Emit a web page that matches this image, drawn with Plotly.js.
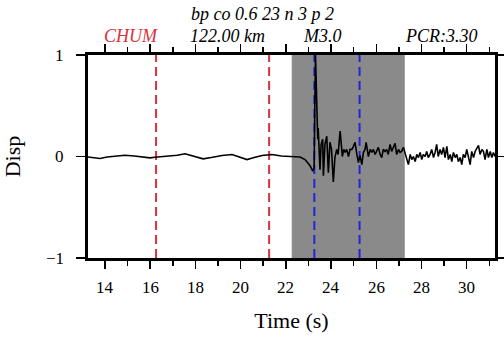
<!DOCTYPE html>
<html>
<head>
<meta charset="utf-8">
<script src="https://cdn.plot.ly/plotly-3.0.1.min.js"></script>
<style>html,body{margin:0;padding:0;background:#fff;}#chart{width:504px;height:338px;}</style>
</head>
<body>
<div id="chart"></div>
<script>
// Waveform (time in s, normalized displacement)
const timeS = [13.25,13.5,13.78,14.1,14.5,14.88,15.3,15.6,15.99,16.2,16.43,16.8,17.2,17.54,17.9,18.34,18.7,19.0,19.18,19.62,19.95,20.28,20.6,20.95,21.39,21.8,22.19,
22.63,22.85,23.07,23.19,23.25,23.31,23.37,23.41,23.43,23.51,23.56,23.63,23.66,23.73,23.81,23.88,23.95,24.02,24.10,24.17,24.25,24.31,24.40,24.50,24.56,24.62,24.69,24.77,24.84,24.92,24.99,25.06,25.14,25.21,25.28,25.36,25.43,25.50,25.55,25.65,25.73,25.80,25.87,25.95,26.09,26.17,26.24,26.31,26.39,26.46,26.53,26.61,26.68,26.75,26.83,26.90,26.98,27.05,27.12,27.20,27.27,27.35,27.42,27.50,27.57,27.64,27.72,27.79,27.86,27.94,28.01,28.08,28.16,28.23,28.30,28.38,28.45,28.53,28.60,28.67,28.74,28.82,28.89,28.97,29.04,29.12,29.19,29.27,29.34,29.41,29.49,29.56,29.63,29.71,29.78,29.85,29.93,30.00,30.08,30.15,30.22,30.30,30.37,30.45,30.52,30.59,30.67,30.74,30.81,30.89,30.96,31.04,31.11,31.18,31.25];
const disp = [-0.005,-0.01,-0.02,-0.005,0.008,0.013,0.005,-0.005,-0.013,-0.008,-0.003,0.0,0.012,0.027,0.005,-0.023,-0.01,0.005,0.01,0.02,-0.005,-0.03,-0.01,0.01,0.02,0.005,0.0,
-0.005,-0.03,-0.09,-0.145,-0.11,1.0,0.36,0.17,0.28,-0.13,0.12,0.17,-0.19,0.12,0.2,-0.16,0.14,0.07,-0.25,-0.01,0.07,0.02,0.25,0.0,0.07,0.04,0.07,0.0,0.07,0.07,0.1,0.14,0.02,-0.06,0.01,-0.08,0.04,0.07,0.14,0.0,0.07,0.04,0.07,0.02,0.09,0.02,-0.01,0.07,0.05,0.07,0.02,0.12,0.05,0.09,0.13,0.02,0.07,0.04,0.05,0.09,0.04,-0.01,-0.08,0.02,-0.03,0.0,-0.05,0.02,-0.01,0.04,-0.03,0.02,0.0,0.05,-0.01,0.02,0.07,-0.01,0.04,0.12,0.0,0.07,0.02,0.09,-0.01,0.1,-0.03,0.02,-0.05,0.04,-0.01,0.02,-0.05,-0.01,-0.08,0.02,-0.01,0.07,-0.03,-0.08,0.05,-0.01,0.05,0.09,0.11,0.02,0.07,0.05,-0.03,0.07,-0.01,0.05,-0.01,0.04,0.0];

const redPicks = [16.26, 21.26];
const bluePicks = [23.26, 25.26];
const windowSpan = [22.26, 27.26];

const xTickVals = [14, 16, 18, 20, 22, 24, 26, 28, 30];
const xTickText = ['14', '16', '18', '20', '22', '24', '26', '28', '30'];
const yTickVals = [-1, 0, 1];
const yTickText = ['\u22121', '0', '1'];
const headerLine1 = 'bp co 0.6 23 n 3 p 2';
const stationName = 'CHUM';
const distanceText = '122.00 km';
const magText = 'M3.0';
const pcrText = 'PCR:3.30';

const serif = 'Liberation Serif';

const shapes = [];
shapes.push({type:'rect', xref:'x', yref:'y', x0:windowSpan[0], x1:windowSpan[1], y0:-1, y1:1,
  fillcolor:'#8a8a8a', line:{width:0}, layer:'below'});
redPicks.forEach(p => shapes.push({type:'line', xref:'x', yref:'y', x0:p, x1:p, y0:-1, y1:1,
  line:{color:'#d8323c', width:2, dash:'9px,5px'}, layer:'below'}));
bluePicks.forEach(p => shapes.push({type:'line', xref:'x', yref:'y', x0:p, x1:p, y0:-1, y1:1,
  line:{color:'#2424d8', width:2, dash:'9px,5px'}, layer:'below'}));

const annFont = {family: serif, size: 18, color: '#000'};
function ann(text, x, y, color) {
  return {text: '<i>' + text + '</i>', xref:'paper', yref:'paper', x:x, y:y,
    xanchor:'center', yanchor:'middle', showarrow:false,
    font: Object.assign({}, annFont, color ? {color: color} : {})};
}
const annotations = [
  ann(headerLine1, 0.429, 1.202),
  ann(stationName, 0.106, 1.094, '#d8323c'),
  ann(distanceText, 0.343, 1.094),
  ann(magText, 0.575, 1.094),
  ann(pcrText, 0.869, 1.094)
];
const tickFont = {family: serif, size: 17, color: '#000'};
xTickVals.forEach((v, i) => annotations.push({text: xTickText[i], xref:'x', yref:'paper', x: v, y: 0,
  yshift: -29.5, xanchor:'center', yanchor:'middle', showarrow:false, font: tickFont}));
yTickVals.forEach((v, i) => annotations.push({text: yTickText[i], xref:'paper', yref:'y', x: 0, y: v,
  xshift: -22, xanchor:'right', yanchor:'middle', showarrow:false, font: tickFont}));

const trace = {x: timeS, y: disp, type:'scatter', mode:'lines',
  line:{color:'#000', width:1.6}, hoverinfo:'skip'};

const layout = {
  width: 504, height: 338,
  margin: {l: 88, r: 9, t: 55, b: 80},
  paper_bgcolor: '#fff', plot_bgcolor: '#fff',
  showlegend: false,
  font: {family: serif, size: 17, color: '#000'},
  xaxis: {
    range: [13.25, 31.25], tick0: 14, dtick: 2, ticks: 'outside', ticklen: 8, tickwidth: 1.5,
    tickcolor: '#000', showline: true, linewidth: 3, linecolor: '#000', mirror: 'ticks',
    showgrid: false, zeroline: false, showticklabels: false,
    minor: {dtick: 1, ticks: 'outside', ticklen: 5, tickwidth: 1.5, tickcolor: '#000', showgrid: false},
    title: {text: 'Time (s)', font: {family: serif, size: 22}, standoff: 45}
  },
  yaxis: {
    range: [-1, 1], tickvals: yTickVals, ticks: 'outside', ticklen: 9,
    tickwidth: 1.5, tickcolor: '#000', showline: true, linewidth: 3, linecolor: '#000', mirror: 'ticks',
    showgrid: false, zeroline: false, showticklabels: false,
    title: {text: 'Disp', font: {family: serif, size: 22}, standoff: 52}
  },
  shapes: shapes,
  annotations: annotations
};

Plotly.newPlot('chart', [trace], layout, {staticPlot: true, displayModeBar: false});
</script>
</body>
</html>
